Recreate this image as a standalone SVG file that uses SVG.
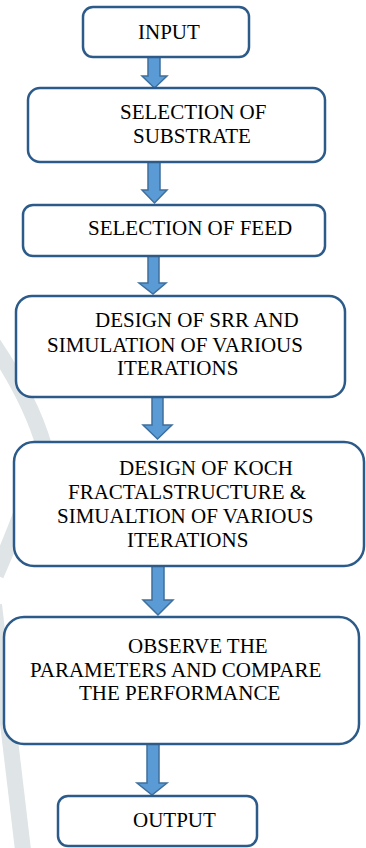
<svg xmlns="http://www.w3.org/2000/svg" width="366" height="848" viewBox="0 0 366 848">
<style>
.box{fill:#fff;stroke:#2c5b8a;stroke-width:2.5}
.arr{fill:#5b9bd5;stroke:#3f6f9c;stroke-width:1.5;stroke-linejoin:miter}
.wm{fill:none;stroke:#dfe4e7;stroke-width:16}
text{font-family:"Liberation Serif","Times New Roman",serif;font-size:21px;fill:#000}
</style>
<rect width="366" height="848" fill="#fff"/>
<g id="watermark">
<path class="wm" d="M -8 342 Q 30 398 44 446 Q 25 510 -4 575"/>
<path class="wm" d="M -6 605 Q 8 720 23 850"/>
</g>
<g id="connectors">
<path class="arr" d="M148 57 H160 V76 H167 L154.5 88 L142 76 H148 Z"/>
<path class="arr" d="M148 162 H160 V190 H167 L154.5 203 L142 190 H148 Z"/>
<path class="arr" d="M148 256 H159 V283 H166 L153 294 L139 283 H148 Z"/>
<path class="arr" d="M152 397 H163 V425 H172 L157.5 439 L143 425 H152 Z"/>
<path class="arr" d="M152 566 H164 V600 H173 L158 615 L143 600 H152 Z"/>
<path class="arr" d="M147 744 H159 V783 H167 L152 795 L137 783 H147 Z"/>
</g>
<g id="input">
<rect class="box" x="83" y="7" width="166" height="50" rx="10"/>
<text x="138" y="39">INPUT</text>
</g>
<g id="substrate">
<rect class="box" x="28" y="88" width="297" height="74" rx="12"/>
<text x="120" y="119">SELECTION OF</text>
<text x="133" y="143">SUBSTRATE</text>
</g>
<g id="feed">
<rect class="box" x="23" y="205" width="302" height="51" rx="10"/>
<text x="88" y="235">SELECTION OF FEED</text>
</g>
<g id="srr">
<rect class="box" x="16" y="296" width="329" height="101" rx="16"/>
<text x="95" y="327">DESIGN OF SRR AND</text>
<text x="47" y="352">SIMULATION OF VARIOUS</text>
<text x="117" y="375">ITERATIONS</text>
</g>
<g id="koch">
<rect class="box" x="14" y="442" width="350" height="124" rx="20"/>
<text x="119" y="475">DESIGN OF KOCH</text>
<text x="68" y="499">FRACTALSTRUCTURE &amp;</text>
<text x="57" y="523">SIMUALTION OF VARIOUS</text>
<text x="127" y="547">ITERATIONS</text>
</g>
<g id="observe">
<rect class="box" x="4" y="617" width="355" height="127" rx="20"/>
<text x="128" y="653">OBSERVE THE</text>
<text x="30" y="677">PARAMETERS AND COMPARE</text>
<text x="79" y="700">THE PERFORMANCE</text>
</g>
<g id="output">
<rect class="box" x="58" y="796" width="199" height="50" rx="10"/>
<text x="133" y="827">OUTPUT</text>
</g>
</svg>
